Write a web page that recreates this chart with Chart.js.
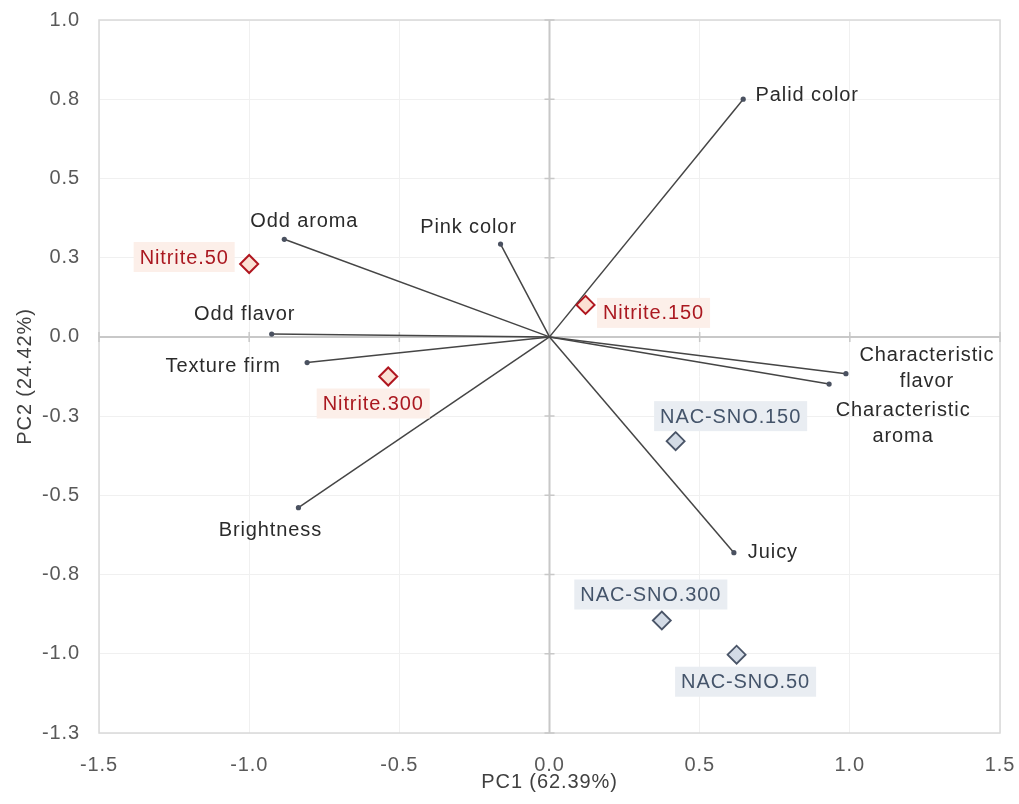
<!DOCTYPE html>
<html>
<head>
<meta charset="utf-8">
<script src="https://cdn.jsdelivr.net/npm/chart.js@4/dist/chart.umd.min.js"></script>
<style>
  html, body { margin: 0; padding: 0; background: #ffffff; }
  #wrap { width: 1019px; height: 804px; }
</style>
</head>
<body>
<div id="wrap"><canvas id="pca" width="1019" height="804"></canvas></div>
<script>
// Sensory attribute loadings (PC1, PC2)
const attributeNames = ['Palid color', 'Pink color', 'Odd aroma', 'Odd flavor', 'Texture firm', 'Brightness',
  ['Characteristic', 'flavor'], ['Characteristic', 'aroma'], 'Juicy'];
const attributePC1 = [0.645, -0.163, -0.883, -0.925, -0.807, -0.836, 0.987, 0.931, 0.614];
const attributePC2 = [0.750, 0.293, 0.308, 0.009, -0.081, -0.539, -0.116, -0.149, -0.681];

// Sample scores
const nitriteNames = ['Nitrite.50', 'Nitrite.150', 'Nitrite.300'];
const nitritePC1 = [-1.000, 0.120, -0.537];
const nitritePC2 = [0.230, 0.101, -0.125];
const nacNames = ['NAC-SNO.50', 'NAC-SNO.150', 'NAC-SNO.300'];
const nacPC1 = [0.623, 0.420, 0.374];
const nacPC2 = [-1.003, -0.329, -0.895];

// Axis ticks
const xTickValues = [-1.5, -1.0, -0.5, 0, 0.5, 1.0, 1.5];
const xTickLabels = ['-1.5', '-1.0', '-0.5', '0.0', '0.5', '1.0', '1.5'];
const yTickValues = [1.0, 0.75, 0.5, 0.25, 0, -0.25, -0.5, -0.75, -1.0, -1.25];
const yTickLabels = ['1.0', '0.8', '0.5', '0.3', '0.0', '-0.3', '-0.5', '-0.8', '-1.0', '-1.3'];

// Label placement (pixel offsets of the label centre from its point)
const attributeLabelOffsets = [[64, -4], [-32, -17], [20, -18], [-27, -20], [-84, 4], [-28, 23], [81, -5], [74, 39], [39, 0]];
const nitriteLabelOffsets = [[-65, -7], [68, 8], [-15, 27]];
const nacLabelOffsets = [[9, 27], [55, -25], [-11, -26]];

const FONT_FAMILY = '"Liberation Sans", Arial, sans-serif';
const FONT_SIZE = 20;
const LETTER_SPACING = '0.9px';

const vectorDatasets = attributeNames.map((name, i) => ({
  label: Array.isArray(name) ? name.join(' ') : name,
  data: [{ x: 0, y: 0 }, { x: attributePC1[i], y: attributePC2[i] }],
  showLine: true,
  borderColor: '#454545',
  borderWidth: 1.5,
  pointRadius: [0, 2.6],
  pointBackgroundColor: '#4a5160',
  pointBorderWidth: 0,
  order: 2
}));

const nitriteDataset = {
  label: 'Nitrite',
  data: nitritePC1.map((x, i) => ({ x, y: nitritePC2[i] })),
  pointStyle: 'rectRot',
  pointRadius: 9,
  pointBackgroundColor: '#fbe1d4',
  pointBorderColor: '#b0161f',
  pointBorderWidth: 2,
  showLine: false,
  order: 1
};

const nacDataset = {
  label: 'NAC-SNO',
  data: nacPC1.map((x, i) => ({ x, y: nacPC2[i] })),
  pointStyle: 'rectRot',
  pointRadius: 9,
  pointBackgroundColor: '#d3dbe6',
  pointBorderColor: '#4a5568',
  pointBorderWidth: 1.8,
  showLine: false,
  order: 1
};

// Frame, zero axes with their tick marks, and point labels
const framePlugin = {
  id: 'frame',
  beforeDraw(chart) {
    chart.ctx.letterSpacing = LETTER_SPACING;
  },
  beforeDatasetsDraw(chart) {
    const { ctx, chartArea: a, scales: { x, y } } = chart;
    ctx.save();
    ctx.strokeStyle = '#d9d9d9';
    ctx.lineWidth = 1.5;
    ctx.strokeRect(a.left, a.top, a.right - a.left, a.bottom - a.top);

    const x0 = x.getPixelForValue(0);
    const y0 = y.getPixelForValue(0);
    ctx.strokeStyle = '#c8c8c8';
    ctx.lineWidth = 2;
    ctx.beginPath();
    ctx.moveTo(x0, a.top); ctx.lineTo(x0, a.bottom);
    ctx.moveTo(a.left, y0); ctx.lineTo(a.right, y0);
    ctx.stroke();

    ctx.lineWidth = 1.5;
    ctx.beginPath();
    xTickValues.forEach(v => {
      const px = x.getPixelForValue(v);
      ctx.moveTo(px, y0 - 5); ctx.lineTo(px, y0 + 5);
    });
    yTickValues.forEach(v => {
      const py = y.getPixelForValue(v);
      ctx.moveTo(x0 - 5, py); ctx.lineTo(x0 + 5, py);
    });
    ctx.stroke();
    ctx.restore();
  },
  afterDatasetsDraw(chart) {
    const { ctx, scales: { x, y } } = chart;
    ctx.save();
    ctx.font = `${FONT_SIZE}px ${FONT_FAMILY}`;
    ctx.letterSpacing = LETTER_SPACING;
    ctx.textAlign = 'center';
    ctx.textBaseline = 'middle';

    // attribute names
    ctx.fillStyle = '#2b2b2b';
    attributeNames.forEach((name, i) => {
      const px = x.getPixelForValue(attributePC1[i]) + attributeLabelOffsets[i][0];
      const py = y.getPixelForValue(attributePC2[i]) + attributeLabelOffsets[i][1];
      const lines = Array.isArray(name) ? name : [name];
      const lh = 26;
      lines.forEach((ln, k) => {
        ctx.fillText(ln, px, py + (k - (lines.length - 1) / 2) * lh);
      });
    });

    // sample names on tinted boxes
    const boxLabel = (text, cx, cy, bg, fg) => {
      const w = ctx.measureText(text).width + 12;
      const h = 30;
      ctx.fillStyle = bg;
      ctx.fillRect(cx - w / 2, cy - h / 2, w, h);
      ctx.fillStyle = fg;
      ctx.fillText(text, cx, cy + 1);
    };
    nitriteNames.forEach((n, i) => {
      boxLabel(n, x.getPixelForValue(nitritePC1[i]) + nitriteLabelOffsets[i][0],
        y.getPixelForValue(nitritePC2[i]) + nitriteLabelOffsets[i][1], '#fcefe9', '#aa1820');
    });
    nacNames.forEach((n, i) => {
      boxLabel(n, x.getPixelForValue(nacPC1[i]) + nacLabelOffsets[i][0],
        y.getPixelForValue(nacPC2[i]) + nacLabelOffsets[i][1], '#e9edf2', '#44546a');
    });
    ctx.restore();
  }
};

new Chart(document.getElementById('pca'), {
  type: 'scatter',
  data: { datasets: [...vectorDatasets, nitriteDataset, nacDataset] },
  options: {
    responsive: false,
    animation: false,
    layout: { padding: { left: 0, right: 19, top: 20, bottom: 0 } },
    plugins: { legend: { display: false }, tooltip: { enabled: false } },
    scales: {
      x: {
        type: 'linear',
        min: -1.5, max: 1.5,
        afterBuildTicks: s => { s.ticks = xTickValues.map(v => ({ value: v })); },
        afterFit: s => { s.height = 71; s.paddingLeft = 0; s.paddingRight = 0; },
        grid: { color: '#f0f0f0', lineWidth: 1, drawTicks: false },
        border: { display: false },
        ticks: {
          padding: 20,
          color: '#595959',
          font: { family: FONT_FAMILY, size: FONT_SIZE },
          maxRotation: 0,
          callback: v => xTickLabels[xTickValues.indexOf(v)]
        },
        title: {
          display: true, text: 'PC1 (62.39%)', color: '#404040',
          font: { family: FONT_FAMILY, size: FONT_SIZE },
          padding: { top: 0, bottom: 10 }
        }
      },
      y: {
        type: 'linear',
        min: -1.25, max: 1.0,
        afterBuildTicks: s => { s.ticks = yTickValues.map(v => ({ value: v })); },
        afterFit: s => { s.width = 99; s.paddingTop = 0; s.paddingBottom = 0; },
        grid: { color: '#f0f0f0', lineWidth: 1, drawTicks: false },
        border: { display: false },
        ticks: {
          padding: 19,
          color: '#595959',
          font: { family: FONT_FAMILY, size: FONT_SIZE },
          callback: v => yTickLabels[yTickValues.indexOf(v)]
        },
        title: {
          display: true, text: 'PC2 (24.42%)', color: '#404040',
          font: { family: FONT_FAMILY, size: FONT_SIZE },
          padding: { top: 13, bottom: 0 }
        }
      }
    }
  },
  plugins: [framePlugin]
});
</script>
</body>
</html>
